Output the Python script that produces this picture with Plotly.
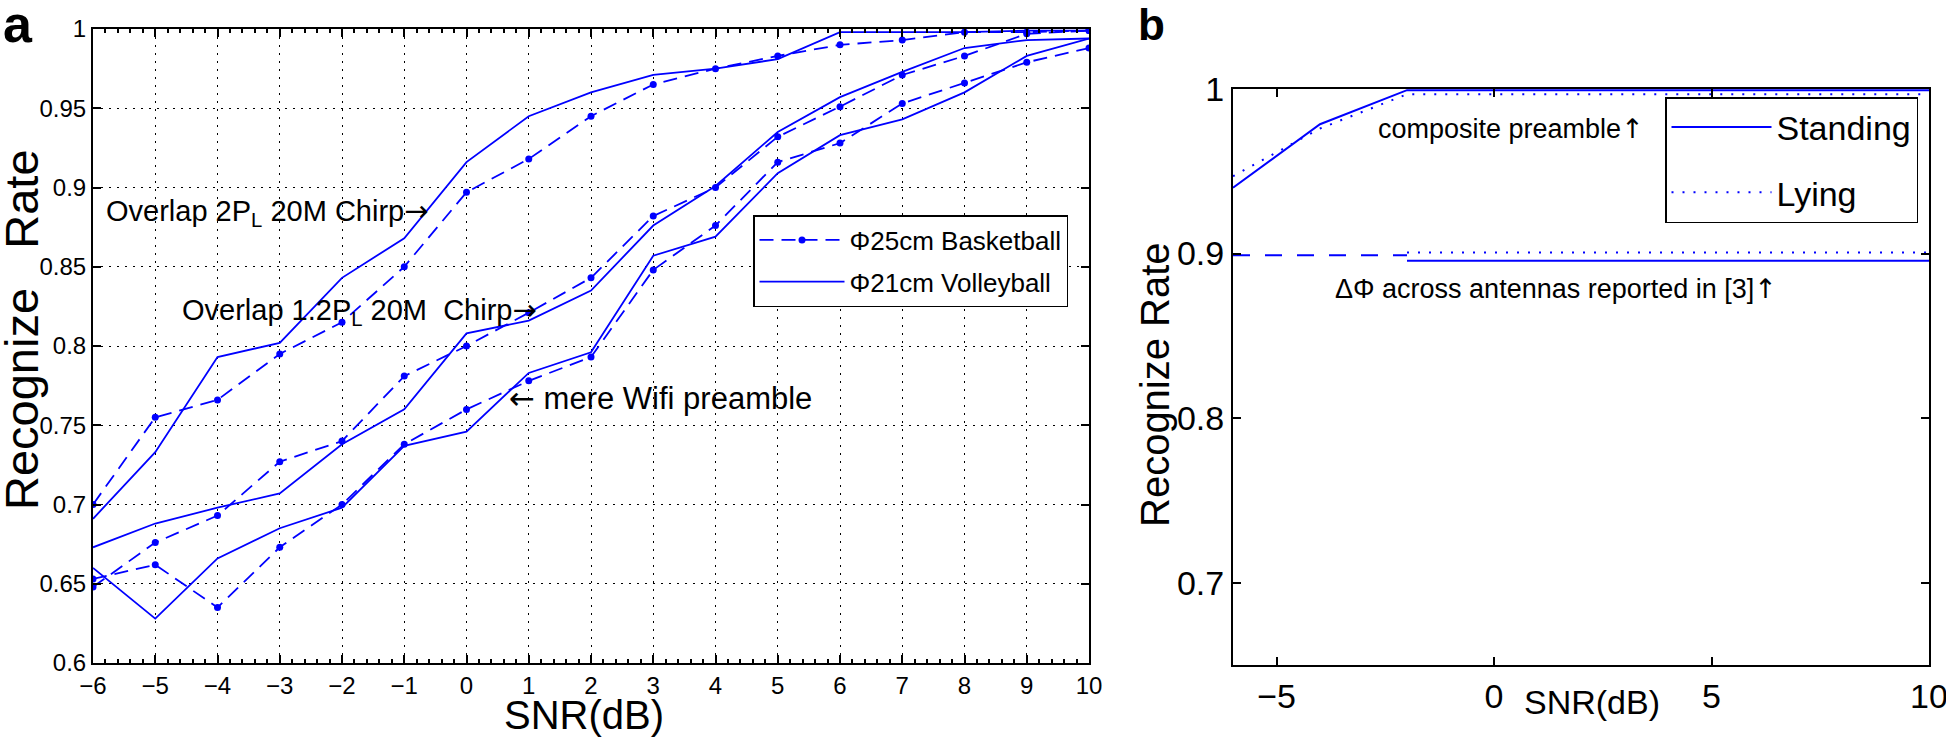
import plotly.graph_objects as go

W, H = 1946, 741

# ---------------- data: panel a ----------------
snr_a = [-6, -5, -4, -3, -2, -1, 0, 1, 2, 3, 4, 5, 6, 7, 8, 9, 10]
basket_2pl = [0.700, 0.755, 0.766, 0.795, 0.815, 0.850, 0.897, 0.918, 0.945, 0.965, 0.975, 0.983, 0.990, 0.993, 0.998, 0.998, 0.999]
volley_2pl = [0.691, 0.733, 0.793, 0.802, 0.843, 0.868, 0.916, 0.945, 0.960, 0.971, 0.975, 0.981, 0.998, 0.998, 0.998, 0.999, 0.999]
basket_12pl = [0.648, 0.676, 0.693, 0.727, 0.740, 0.781, 0.800, 0.821, 0.843, 0.882, 0.900, 0.932, 0.951, 0.971, 0.983, 0.997, 0.999]
volley_12pl = [0.673, 0.688, 0.698, 0.707, 0.738, 0.760, 0.808, 0.816, 0.835, 0.876, 0.901, 0.935, 0.957, 0.973, 0.988, 0.993, 0.994]
basket_wifi = [0.653, 0.662, 0.635, 0.673, 0.700, 0.738, 0.760, 0.778, 0.793, 0.848, 0.876, 0.916, 0.928, 0.953, 0.966, 0.979, 0.988]
volley_wifi = [0.660, 0.628, 0.666, 0.685, 0.698, 0.737, 0.746, 0.783, 0.796, 0.857, 0.869, 0.909, 0.933, 0.943, 0.960, 0.983, 0.994]

xticks_a = [-6, -5, -4, -3, -2, -1, 0, 1, 2, 3, 4, 5, 6, 7, 8, 9, 10]
yticks_a = [0.6, 0.65, 0.7, 0.75, 0.8, 0.85, 0.9, 0.95, 1.0]
yticktext_a = ["0.6", "0.65", "0.7", "0.75", "0.8", "0.85", "0.9", "0.95", "1"]

# ---------------- data: panel b ----------------
snr_b = [-6, -4, -2, 0, 2, 4, 6, 8, 10]
standing = [0.940, 0.9786, 0.9993, 0.9993, 0.9993, 0.9993, 0.9993, 0.9993, 0.9993]
lying = [0.947, 0.976, 0.9968, 0.9968, 0.9968, 0.9968, 0.9968, 0.9968, 0.9968]
dphi_x_early = [-6, -2]
dphi_early = [0.899, 0.899]
dphi_x_late = [-2, 10]
dphi_standing = [0.8957, 0.8957]
dphi_lying = [0.9007, 0.9007]

xticks_b = [-5, 0, 5, 10]
yticks_b = [0.7, 0.8, 0.9, 1.0]
yticktext_b = ["0.7", "0.8", "0.9", "1"]

BLUE = "#0000ff"
SANS = "Liberation Sans, Arial, Helvetica, sans-serif"
ARROW = '<span style="font-family:DejaVu Sans">{}</span>'
RARR = ARROW.format("\u2192")
LARR = ARROW.format("\u2190")
UARR = ARROW.format("\u2191")

fig = go.Figure()

dash_b = "14px,8px"
for i, (yb, yv) in enumerate([(basket_2pl, volley_2pl), (basket_12pl, volley_12pl), (basket_wifi, volley_wifi)]):
    fig.add_trace(go.Scatter(x=snr_a, y=yb, mode="lines+markers", name="\u03a625cm Basketball",
                             legendgroup="bb", line=dict(color=BLUE, width=1.8, dash=dash_b),
                             marker=dict(color=BLUE, size=7), showlegend=(i == 0),
                             legend="legend", xaxis="x", yaxis="y"))
    fig.add_trace(go.Scatter(x=snr_a, y=yv, mode="lines", name="\u03a621cm Volleyball",
                             legendgroup="vb", line=dict(color=BLUE, width=1.8), showlegend=(i == 0),
                             legend="legend", xaxis="x", yaxis="y"))

fig.add_trace(go.Scatter(x=snr_b, y=standing, mode="lines", name="Standing", legendgroup="st",
                         line=dict(color=BLUE, width=2), legend="legend2", xaxis="x2", yaxis="y2"))
fig.add_trace(go.Scatter(x=snr_b, y=lying, mode="lines", name="Lying", legendgroup="ly",
                         line=dict(color=BLUE, width=2, dash="2px,9px"), legend="legend2", xaxis="x2", yaxis="y2"))
fig.add_trace(go.Scatter(x=dphi_x_early, y=dphi_early, mode="lines", showlegend=False,
                         line=dict(color=BLUE, width=2, dash="17px,15px"), xaxis="x2", yaxis="y2"))
fig.add_trace(go.Scatter(x=dphi_x_late, y=dphi_standing, mode="lines", showlegend=False,
                         line=dict(color=BLUE, width=2), xaxis="x2", yaxis="y2"))
fig.add_trace(go.Scatter(x=dphi_x_late, y=dphi_lying, mode="lines", showlegend=False,
                         line=dict(color=BLUE, width=2, dash="2px,9px"), xaxis="x2", yaxis="y2"))


def px_x(p):
    return p / W


def px_y(p):
    return 1 - p / H


axis_common = dict(showline=True, linecolor="black", linewidth=2, mirror="ticks",
                   ticks="inside", tickcolor="black", tickwidth=1.5, zeroline=False,
                   automargin=False, ticklabeloverflow="allow")

fig.update_layout(
    template="none",
    width=W, height=H,
    paper_bgcolor="white", plot_bgcolor="white",
    margin=dict(l=0, r=0, t=0, b=0, pad=0),
    font=dict(family=SANS, color="black", size=24),
    xaxis=dict(domain=[px_x(93), px_x(1089)], range=[-6, 10], tickvals=xticks_a,
               ticklen=8, showgrid=True, gridcolor="black", griddash="2px,6px", gridwidth=1,
               tickfont=dict(size=24, family=SANS, color="black"),
               minor=dict(ticks="inside", dtick=0.2, ticklen=4, tickcolor="black", showgrid=False),
               anchor="y", **axis_common),
    yaxis=dict(domain=[px_y(663), px_y(29)], range=[0.6, 1.0], tickvals=yticks_a, ticktext=yticktext_a,
               ticklen=8, showgrid=True, gridcolor="black", griddash="2px,6px", gridwidth=1,
               tickfont=dict(size=24, family=SANS, color="black"), anchor="x", **axis_common),
    xaxis2=dict(domain=[px_x(1233), px_x(1929)], range=[-6, 10], tickvals=xticks_b,
                ticklen=8, showgrid=False, tickfont=dict(size=34, family=SANS, color="black"),
                anchor="y2", **axis_common),
    yaxis2=dict(domain=[px_y(665), px_y(89)], range=[0.65, 1.0], tickvals=yticks_b, ticktext=yticktext_b,
                ticklen=8, showgrid=False, tickfont=dict(size=34, family=SANS, color="black"),
                anchor="x2", **axis_common),
    legend=dict(x=px_x(753), y=px_y(215), xanchor="left", yanchor="top",
                bgcolor="white", bordercolor="black", borderwidth=1.5,
                traceorder="grouped", tracegroupgap=5, itemwidth=85,
                font=dict(size=26, family=SANS, color="black")),
    legend2=dict(x=px_x(1665), y=px_y(97), xanchor="left", yanchor="top",
                 bgcolor="white", bordercolor="black", borderwidth=1.5,
                 traceorder="grouped", tracegroupgap=18, itemwidth=100,
                 font=dict(size=34, family=SANS, color="black")),
)

ann = []


def paper_text(text, x, y, size, angle=0, bold=False, xanchor="center", yanchor="middle"):
    t = "<b>%s</b>" % text if bold else text
    ann.append(dict(text=t, x=px_x(x), y=px_y(y), xref="paper", yref="paper", textangle=angle,
                    xanchor=xanchor, yanchor=yanchor, showarrow=False,
                    font=dict(size=size, family=SANS, color="black")))


paper_text("a", 18, 24, 52, bold=True)
paper_text("b", 1151, 25, 44, bold=True)
paper_text("Recognize\u00a0\u00a0\u00a0Rate", 21, 330, 47, angle=-90)
paper_text("SNR(dB)", 584, 715, 40)
paper_text("Recognize Rate", 1155, 385, 40, angle=-90)
paper_text("SNR(dB)", 1592, 702, 34)

# panel a labels
ann.append(dict(text="Overlap 2P<sub>L</sub> 20M Chirp" + RARR, x=-5.82, y=0.8845, xref="x", yref="y",
                xanchor="left", yanchor="middle", showarrow=False,
                font=dict(size=29, family=SANS, color="black")))
ann.append(dict(text="Overlap 1.2P<sub>L</sub> 20M\u00a0\u00a0Chirp" + RARR, x=-4.60, y=0.8215, xref="x", yref="y",
                xanchor="left", yanchor="middle", showarrow=False,
                font=dict(size=29, family=SANS, color="black")))
ann.append(dict(text=LARR + " mere Wifi preamble", x=0.65, y=0.767, xref="x", yref="y",
                xanchor="left", yanchor="middle", showarrow=False,
                font=dict(size=31, family=SANS, color="black")))
# panel b labels
ann.append(dict(text="composite preamble" + UARR, x=0.39, y=0.976, xref="x2", yref="y2",
                xanchor="center", yanchor="middle", showarrow=False,
                font=dict(size=27, family=SANS, color="black")))
ann.append(dict(text="\u0394\u03a6 across antennas reported in [3]" + UARR, x=1.43, y=0.8788, xref="x2", yref="y2",
                xanchor="center", yanchor="middle", showarrow=False,
                font=dict(size=27, family=SANS, color="black")))

fig.update_layout(annotations=ann)

fig.write_html("out.html", config={"displayModeBar": False},
               post_script="document.body.style.margin='0';document.body.style.overflow='hidden';")
